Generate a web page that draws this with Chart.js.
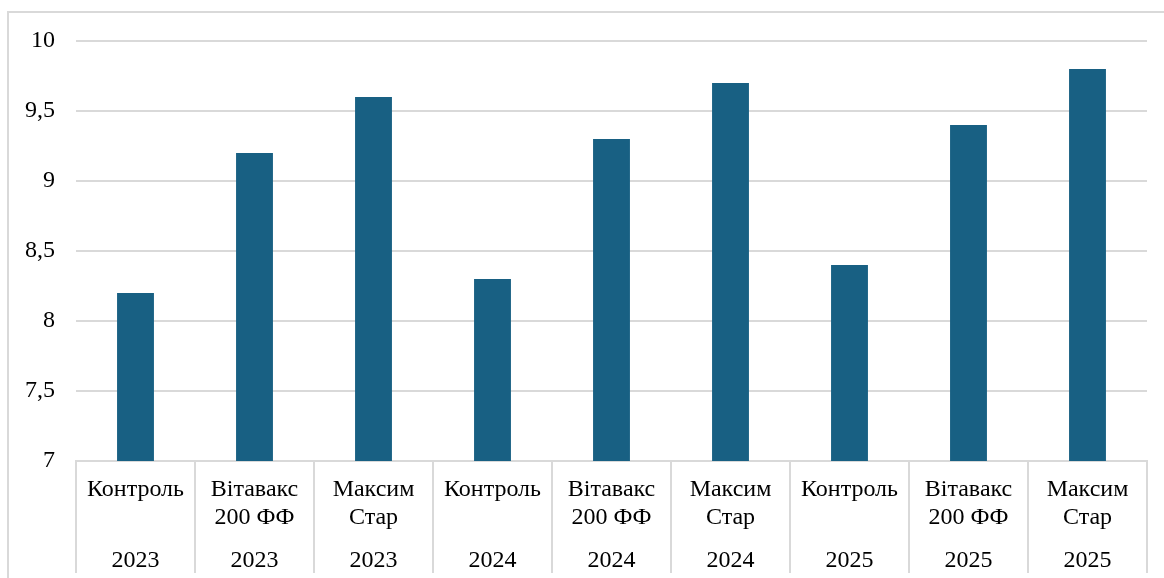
<!DOCTYPE html>
<html>
<head>
<meta charset="utf-8">
<script src="https://cdn.jsdelivr.net/npm/chart.js@4/dist/chart.umd.min.js"></script>
<style>
  html, body { margin: 0; padding: 0; background: #fff; overflow: hidden; }
  #ramka { position: absolute; left: 7px; top: 11px; width: 1200px; height: 600px; border: 2px solid #d9d9d9; }
  #grafik { position: absolute; left: 0; top: 0; }
</style>
</head>
<body>
<div id="ramka"></div>
<canvas id="grafik" width="1164" height="578"></canvas>
<script>
// Дані діаграми
const preparaty = [['Контроль'], ['Вітавакс', '200 ФФ'], ['Максим', 'Стар'],
                   ['Контроль'], ['Вітавакс', '200 ФФ'], ['Максим', 'Стар'],
                   ['Контроль'], ['Вітавакс', '200 ФФ'], ['Максим', 'Стар']];
const roky = ['2023', '2023', '2023', '2024', '2024', '2024', '2025', '2025', '2025'];
const znachennia = [8.2, 9.2, 9.6, 8.3, 9.3, 9.7, 8.4, 9.4, 9.8];

const sirii = '#d9d9d9';
const shryft = { family: '"Liberation Serif", "Times New Roman", serif', size: 24 };

new Chart(document.getElementById('grafik'), {
    type: 'bar',
    data: {
        labels: preparaty,
        datasets: [{
            data: znachennia,
            backgroundColor: '#186083',
            barPercentage: 0.31,
            categoryPercentage: 1
        }]
    },
    options: {
        responsive: false,
        animation: false,
        layout: { padding: { left: 0, top: 41, right: 17, bottom: 0 } },
        plugins: { legend: { display: false }, tooltip: { enabled: false } },
        scales: {
            y: {
                min: 7,
                max: 10,
                afterFit: s => { s.width = 76; },
                border: { display: false },
                grid: { color: sirii, lineWidth: 2, drawTicks: false },
                ticks: {
                    stepSize: 0.5,
                    padding: 21,
                    color: '#000',
                    font: shryft,
                    callback: v => String(v).replace('.', ',')
                }
            },
            x: {
                weight: 0,
                afterFit: s => { s.height = 70; },
                border: { display: true, color: sirii, width: 2 },
                grid: { offset: true, drawOnChartArea: false, drawTicks: true, tickLength: 70, color: sirii, lineWidth: 2 },
                ticks: { padding: -55, color: '#000', font: { ...shryft, lineHeight: 1.167 }, maxRotation: 0, autoSkip: false }
            },
            x2: {
                type: 'category',
                position: 'bottom',
                weight: 1,
                labels: roky,
                afterFit: s => { s.height = 47; },
                border: { display: false },
                grid: { offset: true, drawOnChartArea: false, drawTicks: true, tickLength: 42, color: sirii, lineWidth: 2 },
                ticks: { padding: -26, color: '#000', font: { ...shryft, lineHeight: 1.167 }, maxRotation: 0, autoSkip: false }
            }
        }
    }
});
</script>
</body>
</html>
